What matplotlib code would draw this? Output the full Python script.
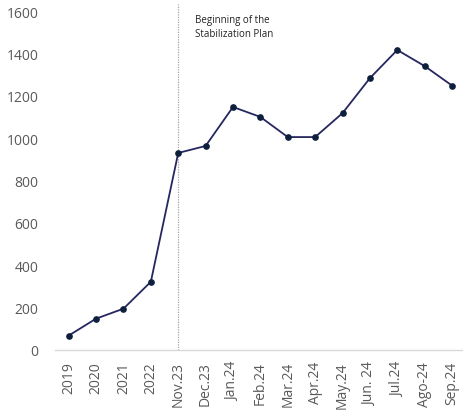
import numpy as np
import matplotlib.pyplot as plt

# monthly series, plan starts at Nov.23
labels = ["2019", "2020", "2021", "2022", "Nov.23", "Dec.23", "Jan.24", "Feb.24",
          "Mar.24", "Apr.24", "May.24", "Jun. 24", "Jul.24", "Ago-24", "Sep.24"]
values = [68, 148, 195, 322, 930, 963, 1147, 1100, 1005, 1005, 1118, 1283, 1416, 1340, 1248]
plan_start = "Nov.23"
note = "Beginning of the\nStabilization Plan"

plt.rcParams['font.family'] = ['Open Sans', 'DejaVu Sans']

fig = plt.figure(figsize=(4.63, 4.14), dpi=100)
ax = fig.add_axes([55 / 463, 63 / 414, 1 - 55 / 463, (351 - 12) / 414])

x = np.arange(len(labels))
ax.plot(x, values, color="#262660", lw=1.3, zorder=3)
ax.plot(x, values, "o", color="#0e1f3d", ms=3.8, zorder=4)

xs = labels.index(plan_start)
ax.axvline(xs, ymin=0, ymax=1.022, color="#a6a6a6", lw=0.9, ls=(0, (1, 1)),
           clip_on=False, zorder=1)
ax.text(xs + 0.6, 1588, note, fontsize=7, color="#222222", va="top",
        linespacing=1.4)

ax.set_xlim(-0.5, 14.4)
ax.set_ylim(0, 1600)
ax.set_yticks(range(0, 1601, 200))
ax.set_xticks(x)
ax.set_xticklabels(labels, rotation=90)
ax.tick_params(axis="both", length=0, labelsize=10, labelcolor="#595959")
ax.tick_params(axis="y", pad=12)
ax.tick_params(axis="x", pad=8)

for s in ["top", "right", "left"]:
    ax.spines[s].set_visible(False)
ax.spines["bottom"].set_color("#d9d9d9")
ax.spines["bottom"].set_linewidth(1)

fig.savefig("out.png", dpi=100)
